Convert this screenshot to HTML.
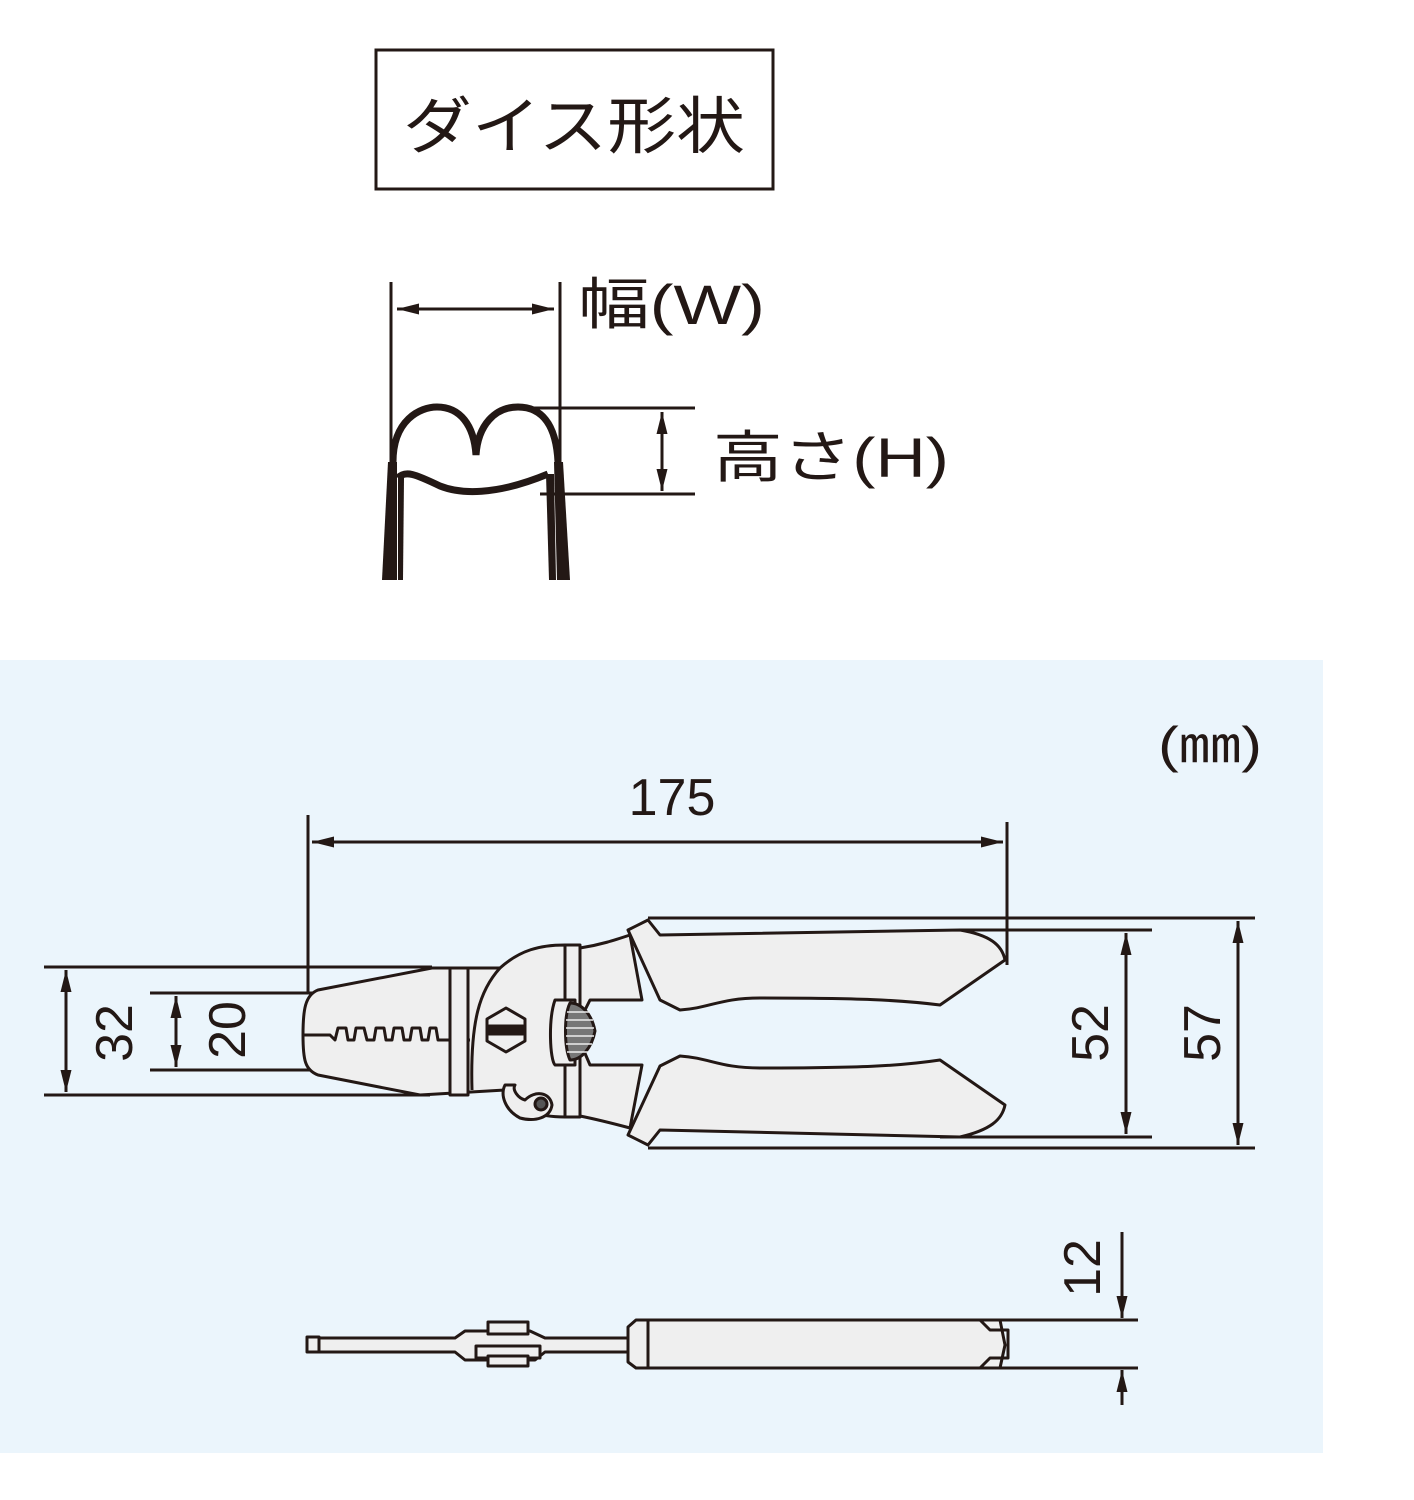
<!DOCTYPE html>
<html><head><meta charset="utf-8"><style>
html,body{margin:0;padding:0;background:#fff}
svg{display:block}
text{font-family:"Liberation Sans","Noto Sans CJK JP",sans-serif;fill:#231815}
</style></head><body>
<svg width="1414" height="1500" viewBox="0 0 1414 1500" xmlns="http://www.w3.org/2000/svg">
<defs>
<marker id="b" viewBox="0 0 20 10" refX="20" refY="5" markerWidth="22" markerHeight="11" orient="auto-start-reverse" markerUnits="userSpaceOnUse"><path d="M0,0 L20,5 L0,10 z" fill="#231815"/></marker>
</defs>
<rect x="0" y="660" width="1323" height="793" fill="#ebf5fc"/>
<!-- title box -->
<rect x="376" y="50" width="397" height="139" fill="none" stroke="#231815" stroke-width="3"/>
<text x="403" y="148" font-size="62" textLength="342" lengthAdjust="spacingAndGlyphs">ダイス形状</text>
<!-- die shape -->
<g stroke="#231815" fill="none">
<line x1="391" y1="282" x2="391" y2="480" stroke-width="3"/>
<line x1="560" y1="282" x2="560" y2="480" stroke-width="3"/>
<line x1="397" y1="309" x2="554" y2="309" stroke-width="3" marker-start="url(#b)" marker-end="url(#b)"/>
<path d="M393,462 C393,420 420,407 437,407 C460,407 474,425 476,455 C478,425 495,407 518,407 C540,407 556,422 558,462" stroke-width="7"/>
<path d="M398,478 C405,470 415,474 440,486 C460,494 495,496 548,474" stroke-width="7"/>
<line x1="520" y1="408" x2="695" y2="408" stroke-width="3"/>
<line x1="540" y1="494" x2="695" y2="494" stroke-width="3"/>
<line x1="662" y1="412" x2="662" y2="491" stroke-width="3" marker-start="url(#b)" marker-end="url(#b)"/>
</g>
<g fill="#231815">
<path d="M388,462 L397,462 L397,580 L382,580 Z"/>
<path d="M398,478 L404,478 L403,580 L398,580 Z"/>
<path d="M546,474 L554,474 L556,580 L549,580 Z"/>
<path d="M554,462 L563,462 L570,580 L557,580 Z"/>
</g>
<text x="578" y="324" font-size="56" textLength="187" lengthAdjust="spacingAndGlyphs">幅(W)</text>
<text x="713" y="477" font-size="56" textLength="236" lengthAdjust="spacingAndGlyphs">高さ(H)</text>
<!-- mm -->
<text x="1158" y="762" font-size="50" textLength="104" lengthAdjust="spacingAndGlyphs">(㎜)</text>
<!-- dimensions -->
<g stroke="#231815" stroke-width="3" fill="none">
<line x1="308" y1="815" x2="308" y2="992"/>
<line x1="1007" y1="822" x2="1007" y2="965"/>
<line x1="312" y1="842" x2="1003" y2="842" marker-start="url(#b)" marker-end="url(#b)"/>
<line x1="44" y1="967" x2="432" y2="967"/>
<line x1="44" y1="1095" x2="430" y2="1095"/>
<line x1="66" y1="970" x2="66" y2="1092" marker-start="url(#b)" marker-end="url(#b)"/>
<line x1="150" y1="993" x2="318" y2="993"/>
<line x1="150" y1="1070" x2="312" y2="1070"/>
<line x1="176" y1="996" x2="176" y2="1067" marker-start="url(#b)" marker-end="url(#b)"/>
<line x1="648" y1="918" x2="1255" y2="918"/>
<line x1="960" y1="930" x2="1152" y2="930"/>
<line x1="940" y1="1137" x2="1152" y2="1137"/>
<line x1="648" y1="1148" x2="1255" y2="1148"/>
<line x1="1126" y1="933" x2="1126" y2="1134" marker-start="url(#b)" marker-end="url(#b)"/>
<line x1="1238" y1="921" x2="1238" y2="1145" marker-start="url(#b)" marker-end="url(#b)"/>
</g>
<text x="672" y="815" font-size="52" text-anchor="middle">175</text>
<text transform="translate(132,1033) rotate(-90)" font-size="52" text-anchor="middle">32</text>
<text transform="translate(245,1030) rotate(-90)" font-size="52" text-anchor="middle">20</text>
<text transform="translate(1108,1033) rotate(-90)" font-size="52" text-anchor="middle">52</text>
<text transform="translate(1220,1033) rotate(-90)" font-size="52" text-anchor="middle">57</text>
<!-- pliers -->
<g stroke="#231815" stroke-width="3" fill="#efefef" stroke-linejoin="round">
<path d="M318,990 L432,968 L500,968 C520,950 540,945 565,945 L580,948 C600,945 615,940 630,935 L642,1000 L590,1000 L575,1030 L590,1065 L642,1065 L630,1128 C600,1120 590,1118 580,1116 L565,1117 C540,1117 515,1110 505,1090 L420,1095 L318,1075 C305,1070 303,1060 303,1035 C303,1010 305,995 318,990 Z"/>
<path d="M628,930 L648,920 L660,935 L960,930 C990,935 1002,945 1005,960 L940,1005 C900,1000 860,998 760,998 C720,998 710,1008 680,1010 L660,1000 Z"/>
<path d="M628,1135 L648,1145 L660,1130 L960,1137 C990,1130 1002,1120 1005,1105 L940,1060 C900,1066 860,1068 760,1068 C720,1068 710,1058 680,1056 L660,1066 Z"/>
<path d="M303,1035 L330,1035 L335,1040 L338,1028 L346,1028 L348,1040 L354,1040 L356,1028 L364,1028 L367,1040 L374,1040 L376,1028 L384,1028 L386,1040 L392,1040 L394,1028 L402,1028 L404,1040 L410,1040 L412,1028 L420,1028 L422,1040 L428,1040 L430,1028 L436,1028 L438,1040 L470,1040" fill="none"/>
<rect x="450" y="968" width="18" height="127"/>
<rect x="565" y="945" width="15" height="172"/>
<path d="M500,968 C480,990 470,1020 472,1090" fill="none"/>
<path d="M555,1000 C548,1020 550,1060 555,1065 L575,1065 L575,1000 Z"/>
<polygon points="506,1008 525,1019 525,1041 506,1052 487,1041 487,1019"/>
<rect x="489" y="1026" width="34" height="8" fill="#231815"/>
<path d="M570,1003 C582,1003 592,1015 595,1031 C592,1047 582,1060 570,1060 C564,1047 564,1015 570,1003 Z" fill="#777"/>
<g stroke="#eee" stroke-width="1.5"><line x1="567" y1="1012" x2="590" y2="1012"/><line x1="566" y1="1020" x2="593" y2="1020"/><line x1="566" y1="1028" x2="594" y2="1028"/><line x1="566" y1="1036" x2="594" y2="1036"/><line x1="566" y1="1044" x2="592" y2="1044"/><line x1="567" y1="1052" x2="588" y2="1052"/></g>
<path d="M505,1085 C500,1095 505,1110 520,1118 C535,1122 550,1118 552,1105 C550,1092 535,1090 525,1100 C518,1098 512,1090 515,1085 Z"/>
<circle cx="541" cy="1104" r="6" fill="#555"/>
</g>
<!-- side view -->
<g stroke="#231815" stroke-width="3" fill="#efefef" stroke-linejoin="round">
<rect x="307" y="1337" width="12" height="15"/>
<path d="M319,1338 L455,1338 L465,1331 L530,1331 L545,1338 L628,1338 L628,1352 L545,1352 L535,1360 L465,1360 L455,1352 L319,1352 Z"/>
<rect x="488" y="1322" width="40" height="12"/>
<rect x="476" y="1346" width="64" height="12"/>
<rect x="488" y="1356" width="40" height="10"/>
<path d="M628,1327 L636,1320 L1000,1320 L1005,1345 L1000,1368 L636,1368 L628,1362 Z"/>
<path d="M648,1320 L648,1368" fill="none"/>
<path d="M980,1320 L990,1330 L1008,1330 L1008,1358 L990,1358 L980,1368" fill="none"/>
</g>
<g stroke="#231815" stroke-width="3">
<line x1="980" y1="1320" x2="1138" y2="1320"/>
<line x1="980" y1="1368" x2="1138" y2="1368"/>
<line x1="1122" y1="1232" x2="1122" y2="1318" marker-end="url(#b)"/>
<line x1="1122" y1="1405" x2="1122" y2="1370" marker-end="url(#b)"/>
</g>
<text transform="translate(1100,1268) rotate(-90)" font-size="52" text-anchor="middle">12</text>
</svg>
</body></html>
